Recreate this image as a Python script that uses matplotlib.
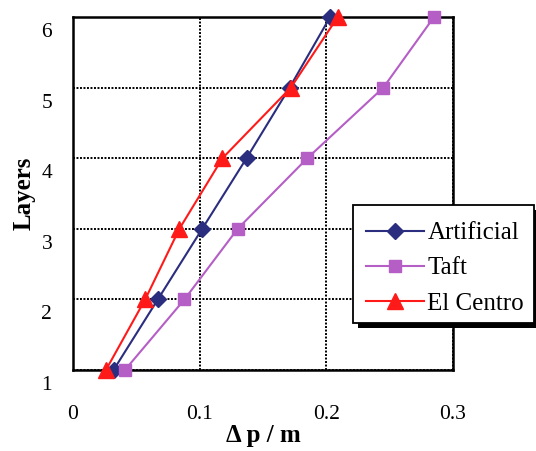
import matplotlib
matplotlib.use("Agg")
import matplotlib.pyplot as plt
import matplotlib.transforms as mtransforms
from matplotlib.patches import Rectangle

layers = [1, 2, 3, 4, 5, 6]
artificial = [0.032, 0.067, 0.102, 0.137, 0.171, 0.203]
taft = [0.041, 0.088, 0.130, 0.185, 0.245, 0.285]
el_centro = [0.026, 0.057, 0.084, 0.118, 0.172, 0.209]

xticks = [0, 0.1, 0.2, 0.3]
xtick_labels = ["0", "0.1", "0.2", "0.3"]

plt.rcParams["font.family"] = ["Liberation Serif", "DejaVu Serif"]

W, H = 536, 451
fig = plt.figure(figsize=(W / 100, H / 100), dpi=100)
ax = fig.add_axes([73 / W, 1 - 370 / H, 380 / W, 353 / H])

ax.plot(artificial, layers, color="#2B2D7F", lw=1.5, marker="D", ms=8,
        label="Artificial", clip_on=False, zorder=3)
ax.plot(taft, layers, color="#B45EC6", lw=1.5, marker="s", ms=9,
        label="Taft", clip_on=False, zorder=3)
ax.plot(el_centro, layers, color="#FF1A1A", lw=1.5, marker="^", ms=11,
        label="El Centro", clip_on=False, zorder=4)

ax.set_xlim(0, 0.3)
ax.set_ylim(1, 6)
ax.set_xticks(xticks)
ax.set_xticklabels(xtick_labels)
ax.set_yticks(layers)
ax.grid(True, color="black", linestyle=(0, (1, 0.8)), linewidth=1.4)
ax.set_axisbelow(True)
for s in ax.spines.values():
    s.set_linewidth(1.8)
ax.tick_params(axis="both", length=0, labelsize=15.5)
ax.tick_params(axis="x", pad=25)
ax.tick_params(axis="y", pad=15)

# y labels sit a little below their gridlines, as in the original
offset = mtransforms.ScaledTranslation(0, -13 / 100, fig.dpi_scale_trans)
for lab in ax.get_yticklabels():
    lab.set_transform(lab.get_transform() + offset)

ax.set_ylabel("Layers", fontsize=18, fontweight="bold", labelpad=4)
ax.set_xlabel("Δ p / m", fontsize=18, fontweight="bold", labelpad=0)

# legend box with a hard black drop shadow
lx0, ly0, lx1, ly1 = 353, 205, 534, 323
fig.patches.append(Rectangle(((lx0 + 5) / W, 1 - (ly1 + 5) / H),
                             (lx1 - lx0) / W, (ly1 - ly0) / H,
                             transform=fig.transFigure, facecolor="black",
                             edgecolor="none", zorder=5))
fig.patches.append(Rectangle((lx0 / W, 1 - ly1 / H),
                             (lx1 - lx0) / W, (ly1 - ly0) / H,
                             transform=fig.transFigure, facecolor="white",
                             edgecolor="black", linewidth=1.3, zorder=6))

leg = fig.legend(loc="upper left", bbox_to_anchor=(366 / W, 1 - 222 / H),
                 fontsize=18, frameon=False,
                 handlelength=2.3, handletextpad=0.15, labelspacing=0.5,
                 borderpad=0, borderaxespad=0)
leg.set_zorder(7)

fig.savefig("out.png", dpi=100)
